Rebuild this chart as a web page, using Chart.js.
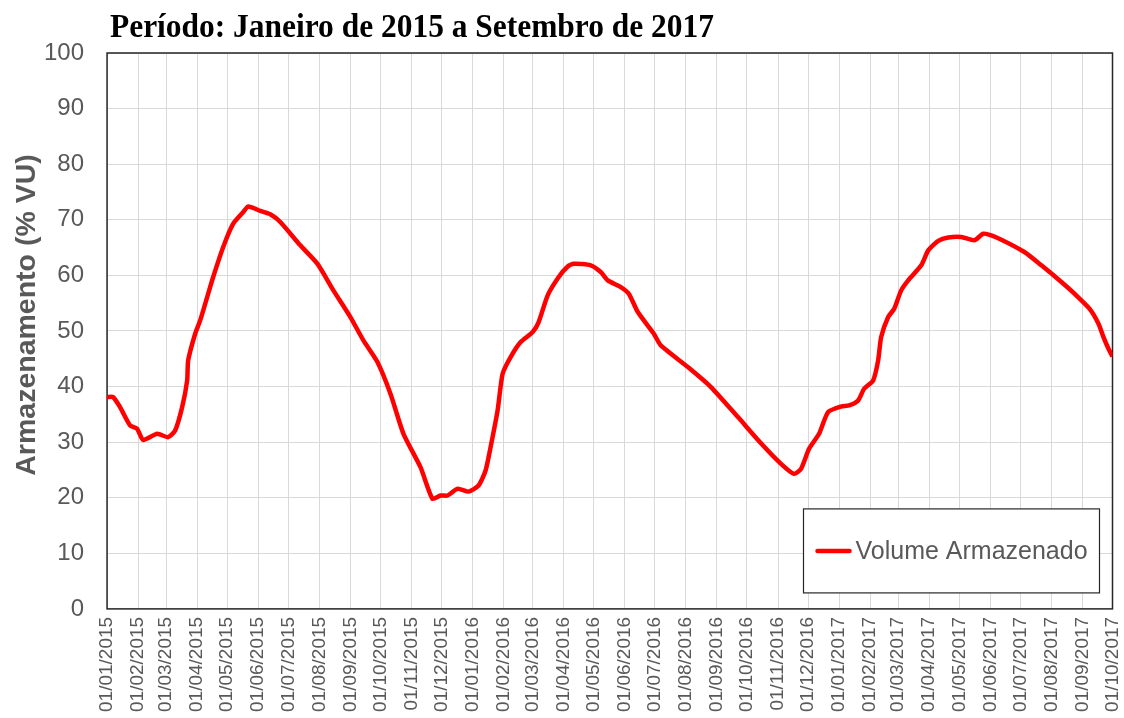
<!DOCTYPE html>
<html>
<head>
<meta charset="utf-8">
<script src="https://cdn.jsdelivr.net/npm/chart.js@4/dist/chart.umd.min.js"></script>
<style>
  html, body { margin: 0; padding: 0; background: #fff; }
  #wrap { width: 1124px; height: 718px; }
</style>
</head>
<body>
<div id="wrap"><canvas id="chart"></canvas></div>
<script>
const chartTitle = 'Período: Janeiro de 2015 a Setembro de 2017'
const yTitle = 'Armazenamento (% VU)'
const seriesName = 'Volume Armazenado'

// month ticks shown on the x axis
const tickLabels = [
  '01/01/2015','01/02/2015','01/03/2015','01/04/2015','01/05/2015','01/06/2015',
  '01/07/2015','01/08/2015','01/09/2015','01/10/2015','01/11/2015','01/12/2015',
  '01/01/2016','01/02/2016','01/03/2016','01/04/2016','01/05/2016','01/06/2016',
  '01/07/2016','01/08/2016','01/09/2016','01/10/2016','01/11/2016','01/12/2016',
  '01/01/2017','01/02/2017','01/03/2017','01/04/2017','01/05/2017','01/06/2017',
  '01/07/2017','01/08/2017','01/09/2017','01/10/2017'
]
const yTicks = [0, 10, 20, 30, 40, 50, 60, 70, 80, 90, 100]

// days since 01/01/2015 and stored volume (% VU)
const dias = [
  0, 6, 13, 23, 30, 36, 50, 61, 68, 75, 80, 81, 88, 93, 100, 106, 116, 126, 136, 141,
  153, 163, 173, 193, 210, 226, 243, 256, 270, 283, 296, 313, 325, 333, 340, 350,
  361, 371, 378, 383, 390, 395, 403, 413, 425, 431, 440, 451, 460, 466, 483, 493,
  500, 513, 521, 530, 546, 553, 580, 603, 630, 653, 673, 686, 693, 701, 711, 720,
  733, 741, 750, 756, 765, 770, 773, 780, 786, 793, 800, 813, 820, 830, 840, 853,
  866, 875, 886, 916, 933, 953, 966, 981, 990, 995, 1000, 1004
]
const volume = [
  38.1, 38.1, 36.3, 33.0, 32.4, 30.4, 31.5, 30.9, 32.1, 36.3, 41.1, 44.7, 49.5, 51.9, 56.1, 59.7, 65.1, 69.3, 71.4, 72.4,
  71.6, 71.0, 69.6, 65.4, 62.1, 57.3, 52.5, 48.3, 44.4, 38.7, 31.5, 25.5, 19.8, 20.4, 20.4, 21.6,
  21.1, 22.2, 24.9, 29.1, 35.7, 42.3, 45.3, 48.0, 49.8, 51.6, 56.4, 59.7, 61.6, 62.1, 61.8, 60.6,
  59.1, 57.9, 56.7, 53.4, 49.5, 47.4, 43.5, 39.9, 34.5, 29.8, 26.1, 24.3, 25.2, 28.8, 31.5, 35.4,
  36.4, 36.6, 37.5, 39.6, 41.1, 44.7, 48.9, 52.5, 54.0, 57.3, 59.1, 61.8, 64.5, 66.2, 66.8, 66.9,
  66.3, 67.5, 67.0, 64.2, 61.8, 58.8, 56.7, 54.0, 51.3, 48.9, 46.8, 45.4
]

const dayOf = s => {
  const [d, m, y] = s.split('/').map(Number)
  return Math.round((Date.UTC(y, m - 1, d) - Date.UTC(2015, 0, 1)) / 86400000)
}
const tickDays = tickLabels.map(dayOf)

const gray = '#595959'
const sans = '"Liberation Sans", Arial, sans-serif'

const framePlugin = {
  id: 'frame',
  beforeDatasetsDraw(chart) {
    const { ctx, chartArea: a } = chart
    ctx.save()
    ctx.strokeStyle = '#262626'
    ctx.lineWidth = 1.5
    ctx.strokeRect(a.left, a.top, a.right - a.left, a.bottom - a.top)
    ctx.restore()
  }
}

// condensed serif title and the rotated axis title, placed like the original
const textPlugin = {
  id: 'texts',
  afterDraw(chart) {
    const { ctx } = chart
    ctx.save()
    ctx.font = 'bold 33px "Liberation Serif", "Times New Roman", serif'
    ctx.fillStyle = '#000'
    ctx.textBaseline = 'alphabetic'
    const w = ctx.measureText(chartTitle).width
    ctx.translate(110, 37)
    ctx.scale(604 / w, 1)
    ctx.fillText(chartTitle, 0, 0)
    ctx.restore()

    ctx.save()
    ctx.font = 'bold 28.5px ' + sans
    ctx.fillStyle = gray
    ctx.textAlign = 'center'
    ctx.textBaseline = 'alphabetic'
    ctx.translate(35, 315)
    ctx.rotate(-Math.PI / 2)
    ctx.fillText(yTitle, 0, 0)
    ctx.restore()
  }
}

const legendPlugin = {
  id: 'boxLegend',
  afterDatasetsDraw(chart) {
    const { ctx, chartArea: a } = chart
    const w = 296, h = 84
    const x = a.right - 13 - w, y = a.bottom - 16 - h
    ctx.save()
    ctx.fillStyle = '#fff'
    ctx.fillRect(x, y, w, h)
    ctx.strokeStyle = '#262626'
    ctx.lineWidth = 1.2
    ctx.strokeRect(x, y, w, h)
    ctx.strokeStyle = '#ff0000'
    ctx.lineWidth = 4.5
    ctx.lineCap = 'round'
    ctx.beginPath()
    ctx.moveTo(x + 14, y + h / 2)
    ctx.lineTo(x + 46, y + h / 2)
    ctx.stroke()
    ctx.fillStyle = gray
    ctx.font = '25px ' + sans
    ctx.textBaseline = 'middle'
    ctx.fillText(seriesName, x + 52, y + h / 2 + 1)
    ctx.restore()
  }
}

new Chart(document.getElementById('chart'), {
  type: 'line',
  data: {
    datasets: [{
      label: seriesName,
      data: dias.map((d, i) => ({ x: d, y: volume[i] })),
      borderColor: '#ff0000',
      borderWidth: 4.5,
      pointRadius: 0,
      tension: 0.2,
      fill: false
    }]
  },
  options: {
    responsive: true,
    maintainAspectRatio: false,
    animation: false,
    layout: { padding: { top: 53, left: 21, right: 0, bottom: 4 } },
    plugins: { legend: { display: false }, title: { display: false }, tooltip: { enabled: false } },
    scales: {
      x: {
        type: 'linear',
        min: 0,
        max: tickDays[tickDays.length - 1],
        afterBuildTicks: axis => { axis.ticks = tickDays.map(v => ({ value: v })) },
        grid: { color: '#d9d9d9', lineWidth: 1, drawTicks: true, tickLength: 6, tickColor: 'rgba(0,0,0,0)' },
        border: { display: false },
        ticks: {
          autoSkip: false,
          minRotation: 90,
          maxRotation: 90,
          padding: 2,
          color: gray,
          font: { family: sans, size: 19, lineHeight: 0.5 },
          callback: v => tickLabels[tickDays.indexOf(v)] ?? ''
        }
      },
      y: {
        min: 0,
        max: 100,
        afterBuildTicks: axis => { axis.ticks = yTicks.map(v => ({ value: v })) },
        grid: { color: '#d9d9d9', lineWidth: 1, drawTicks: false },
        border: { display: false },
        ticks: {
          padding: 23,
          color: gray,
          font: { family: sans, size: 24 }
        }
      }
    }
  },
  plugins: [framePlugin, legendPlugin, textPlugin]
})
</script>
</body>
</html>
